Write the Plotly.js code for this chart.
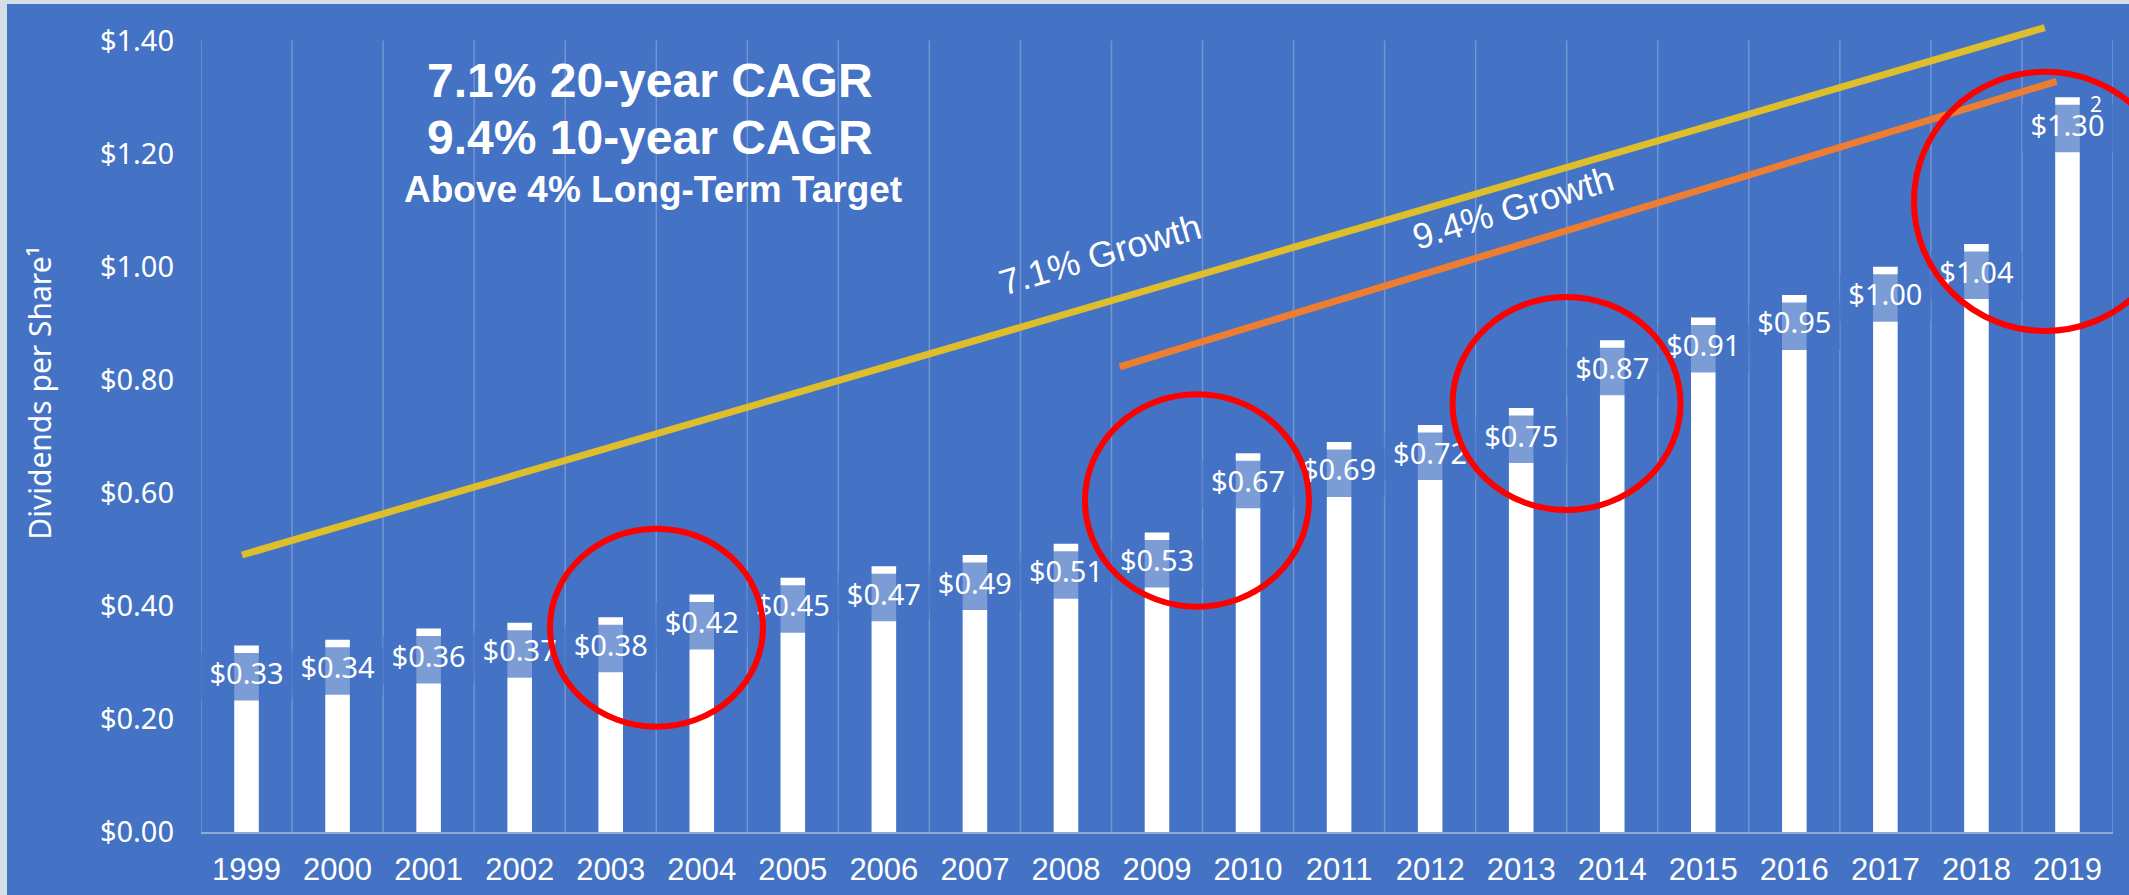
<!DOCTYPE html>
<html><head><meta charset="utf-8">
<script src="https://cdn.plot.ly/plotly-3.0.1.min.js"></script>
<style>
html,body{margin:0;padding:0;background:#d3dee6;overflow:hidden;}
#chart{position:absolute;left:7px;top:4px;width:2122px;height:891px;}
</style></head><body><div id="chart"></div>
<script>
// ---- data ----
const years = [1999,2000,2001,2002,2003,2004,2005,2006,2007,2008,2009,2010,2011,2012,2013,2014,2015,2016,2017,2018,2019];
const dividends = [0.33,0.34,0.36,0.37,0.38,0.42,0.45,0.47,0.49,0.51,0.53,0.67,0.69,0.72,0.75,0.87,0.91,0.95,1.00,1.04,1.30];
const valueLabels = ['$0.33','$0.34','$0.36','$0.37','$0.38','$0.42','$0.45','$0.47','$0.49','$0.51','$0.53','$0.67','$0.69','$0.72','$0.75','$0.87','$0.91','$0.95','$1.00','$1.04','$1.30'];
const yTickVals = [0,0.2,0.4,0.6,0.8,1.0,1.2,1.4];
const yTickText = ['$0.00','$0.20','$0.40','$0.60','$0.80','$1.00','$1.20','$1.40'];
const trend20Years = [1998.95, 2018.75];
const trend20Values = [0.490, 1.423];
const trend10Years = [2008.59, 2018.88];
const trend10Values = [0.823, 1.328];
const highlightYears = [[2002.333,2004.672],[2008.209,2010.669],[2012.246,2014.750],[2017.314,2020.195]];
const highlightValues = [[0.1863,0.5366],[0.3986,0.7742],[0.5697,0.9466],[0.8864,1.3447]];

// ---- layout constants ----
const BLUE = '#4472c4';
const X0 = 1998.5, X1 = 2019.5, YMAX = 1.44;
const PX_PER_UNIT = 565.2;
const boxGap = 7.5 / PX_PER_UNIT, boxH = 47.5 / PX_PER_UNIT;

const traces = [
  {type:'bar', x:years, y:dividends, width:0.27, marker:{color:'#ffffff', line:{width:0}}, hoverinfo:'skip'},
  {type:'bar', x:years, y:dividends.map(()=>boxH), base:dividends.map(v=>v-boxGap-boxH), width:1,
   marker:{color:'rgba(68,114,196,0.7)', line:{width:0}}, hoverinfo:'skip'},
  {type:'scatter', mode:'text', x:years, y:dividends.map(v=>v-boxGap-boxH/2), text:valueLabels,
   textposition:'middle center', cliponaxis:false,
   textfont:{family:'Noto Sans, Open Sans, sans-serif', size:29, color:'#ffffff'}, hoverinfo:'skip'},
  {type:'scatter', mode:'lines', x:trend20Years, y:trend20Values, line:{color:'#dfbe2c', width:7}, hoverinfo:'skip'},
  {type:'scatter', mode:'lines', x:trend10Years, y:trend10Values, line:{color:'#ed7d31', width:7}, hoverinfo:'skip'}
];

const shapes = [];
for (let i = 0; i <= years.length; i++) {
  const gx = X0 + i;
  shapes.push({type:'line', xref:'x', yref:'y', x0:gx, x1:gx, y0:0, y1:1.4, layer:'below',
    line:{color:'rgba(255,255,255,0.25)', width:1.5}});
}
highlightYears.forEach((hx, i) => {
  shapes.push({type:'circle', xref:'paper', yref:'paper', layer:'above',
    x0:(hx[0]-X0)/(X1-X0), x1:(hx[1]-X0)/(X1-X0),
    y0:highlightValues[i][0]/YMAX, y1:highlightValues[i][1]/YMAX,
    line:{color:'#ff0000', width:6}, fillcolor:'rgba(0,0,0,0)'});
});

const boldFont = 'Liberation Sans, Arial, sans-serif';
const annotations = [
  {xref:'paper', yref:'paper', x:0.235, y:0.9231, text:'7.1% 20-year CAGR', showarrow:false,
   font:{family:boldFont, size:48, color:'#ffffff', weight:700}, xanchor:'center', yanchor:'middle'},
  {xref:'paper', yref:'paper', x:0.235, y:0.8531, text:'9.4% 10-year CAGR', showarrow:false,
   font:{family:boldFont, size:48, color:'#ffffff', weight:700}, xanchor:'center', yanchor:'middle'},
  {xref:'paper', yref:'paper', x:0.2365, y:0.7892, text:'Above 4% Long-Term Target', showarrow:false,
   font:{family:boldFont, size:37, color:'#ffffff', weight:700}, xanchor:'center', yanchor:'middle'},
  {xref:'x', yref:'y', x:2008.377, y:1.0214, text:'7.1% Growth', showarrow:false, textangle:-16.3,
   font:{family:'Liberation Sans, Arial, sans-serif', size:36, color:'#ffffff'}},
  {xref:'x', yref:'y', x:2012.913, y:1.1046, text:'9.4% Growth', showarrow:false, textangle:-17,
   font:{family:'Liberation Sans, Arial, sans-serif', size:36, color:'#ffffff'}},
  {xref:'x', yref:'y', x:2019, y:1.30, xshift:29, yshift:-7, text:'2', showarrow:false,
   font:{family:'Noto Sans, sans-serif', size:21, color:'#ffffff'}},
  {xref:'paper', yref:'paper', x:-0.0842, y:0.5397, text:'Dividends per Share¹', showarrow:false, textangle:-90,
   font:{family:'Noto Sans, Open Sans, sans-serif', size:30, color:'#ffffff'}, xanchor:'center', yanchor:'middle'}
];

const layout = {
  width:2122, height:891,
  margin:{l:194, r:16, t:14, b:63},
  paper_bgcolor:BLUE, plot_bgcolor:BLUE,
  barmode:'overlay', showlegend:false,
  xaxis:{type:'linear', range:[X0, X1], tickvals:years, ticktext:years.map(String),
    showgrid:false, zeroline:false, showline:true, linecolor:'rgba(255,255,255,0.4)', linewidth:1.5,
    ticks:'', ticklabelstandoff:9, tickangle:0,
    tickfont:{family:'Liberation Sans, Arial, sans-serif', size:31, color:'#ffffff'}, fixedrange:true},
  yaxis:{range:[0, YMAX], tickvals:yTickVals, ticktext:yTickText, showgrid:false, zeroline:false,
    showline:false, ticks:'', ticklabelstandoff:26,
    tickfont:{family:'Noto Sans, Open Sans, sans-serif', size:29, color:'#ffffff'}, fixedrange:true},
  shapes:shapes, annotations:annotations
};

Plotly.newPlot('chart', traces, layout, {displayModeBar:false, staticPlot:true});
</script></body></html>
